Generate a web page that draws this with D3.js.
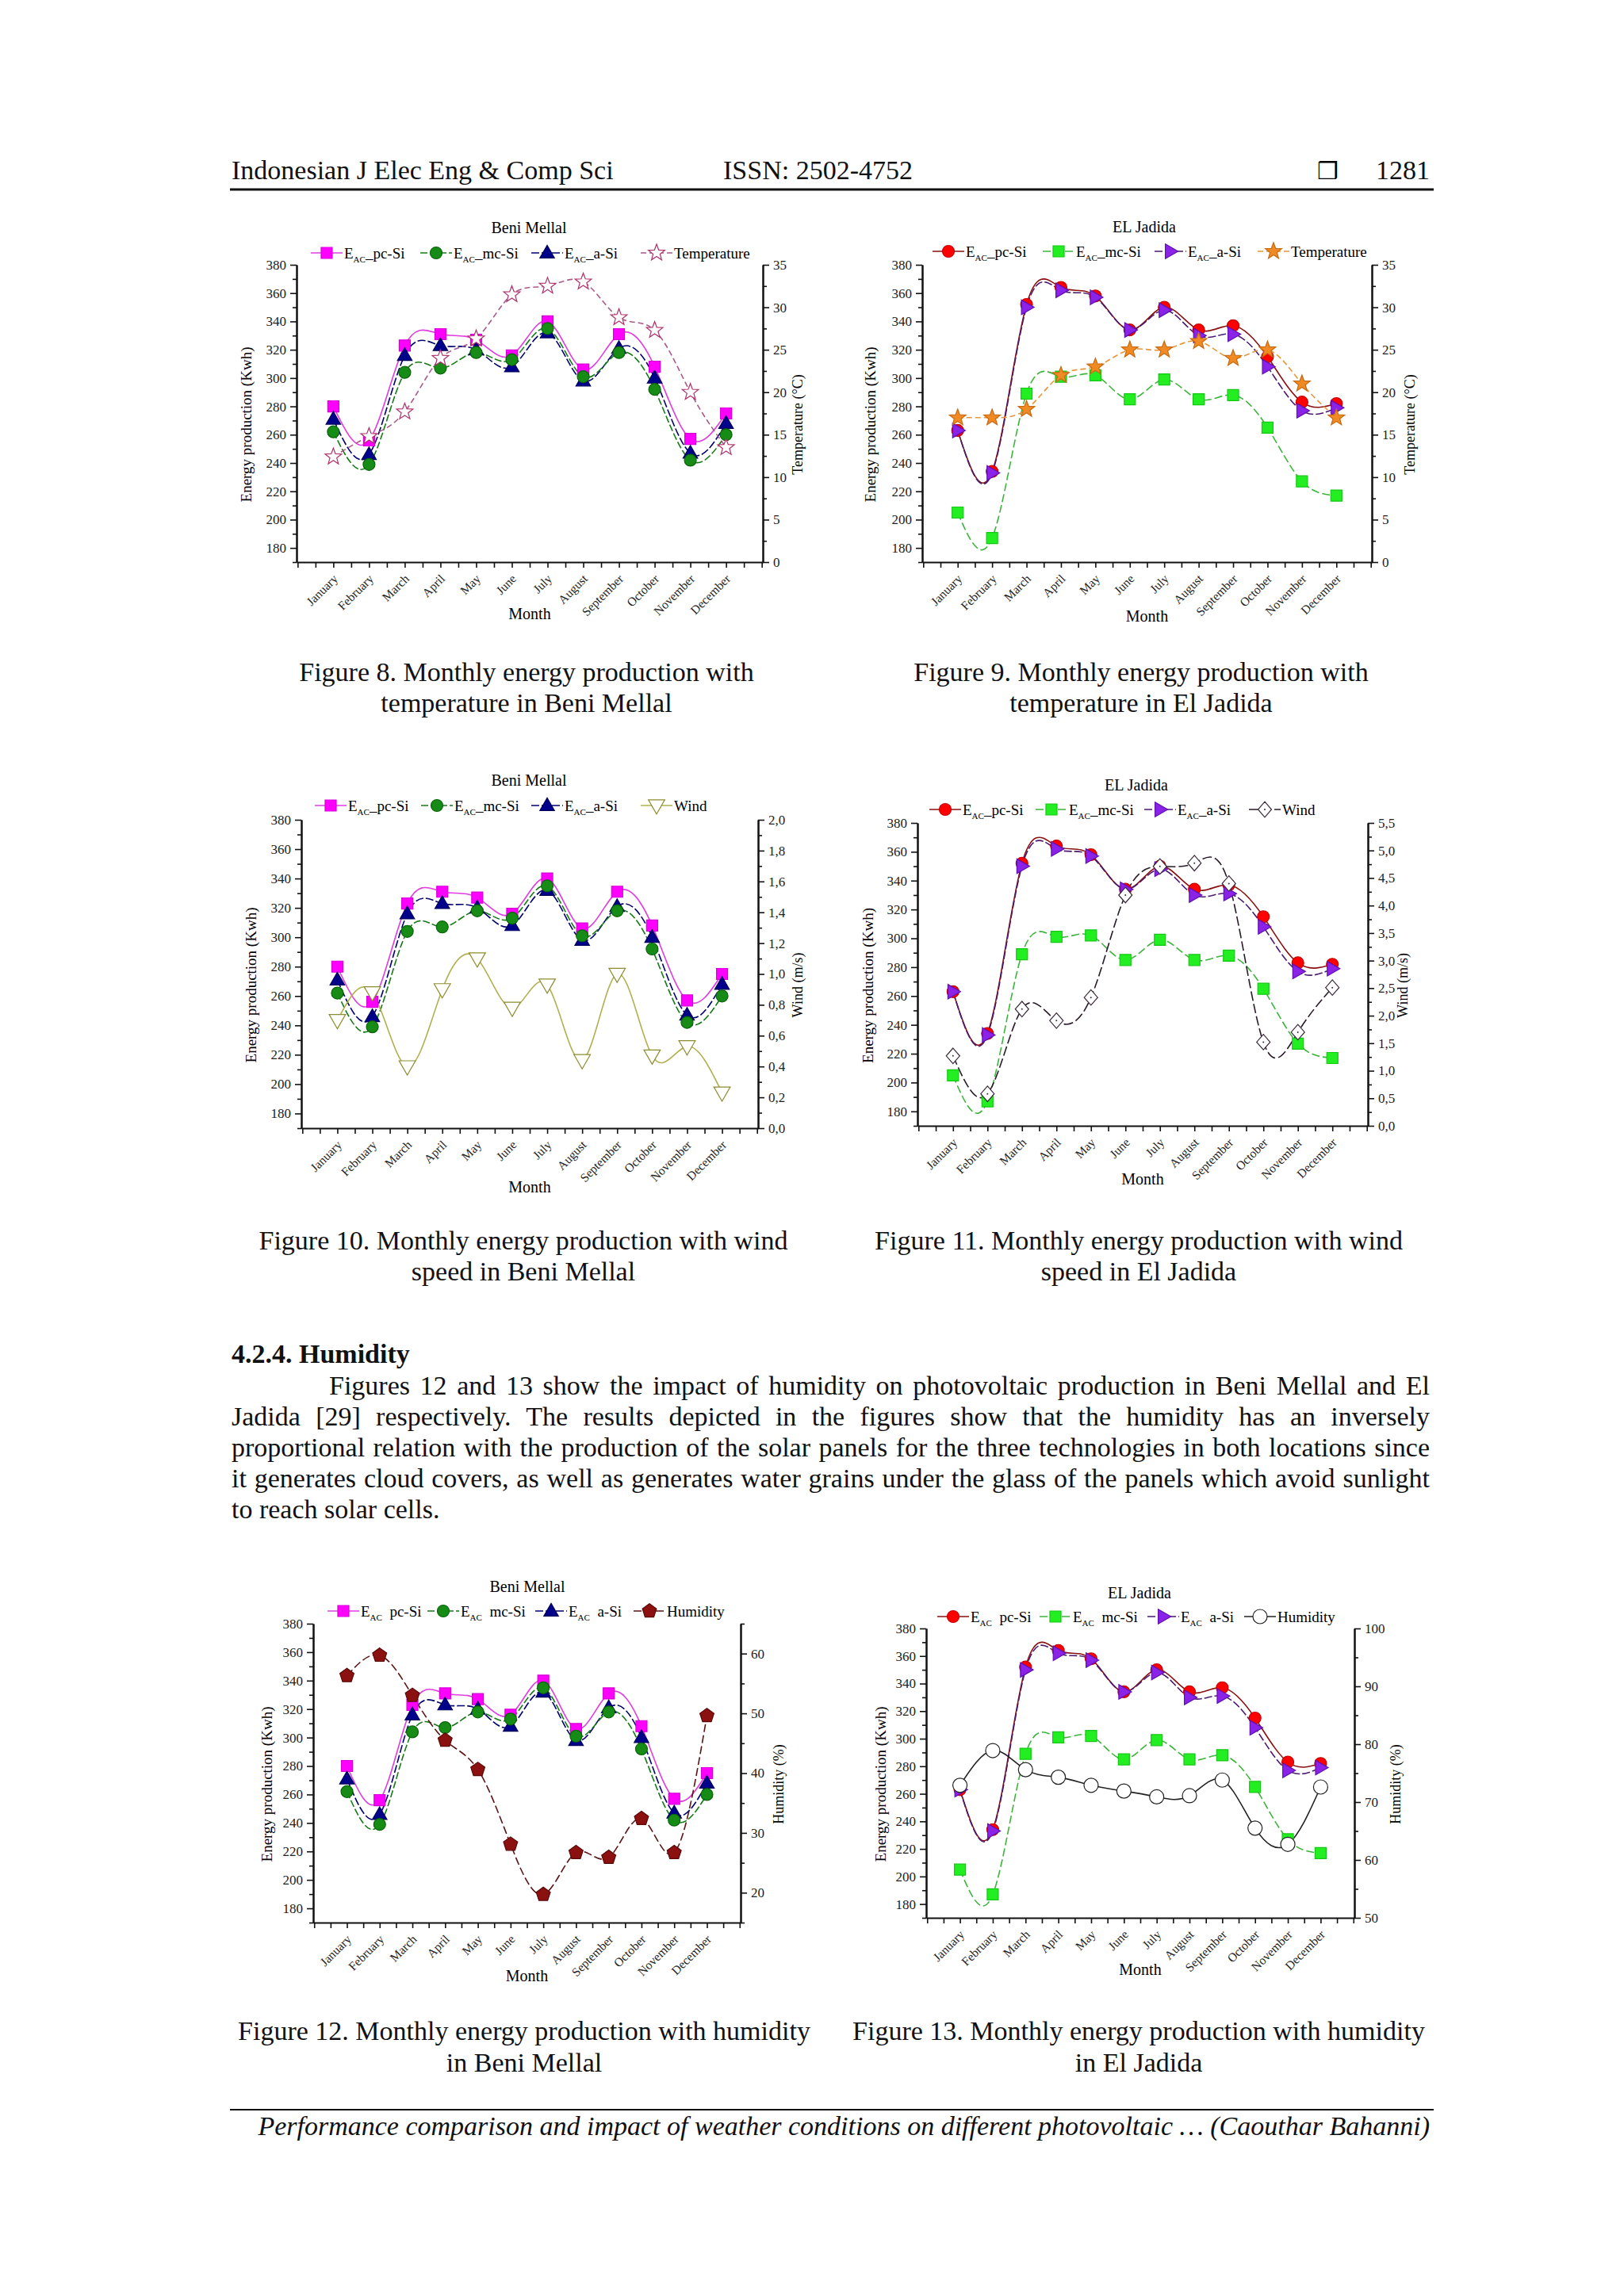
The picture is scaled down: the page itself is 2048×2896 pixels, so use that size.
<!DOCTYPE html>
<html><head><meta charset="utf-8">
<script src="https://cdn.jsdelivr.net/npm/d3@7"></script>
<style>body{margin:0;background:#fff}svg{display:block}</style>
</head><body>
<svg id="page" width="2048" height="2896"></svg>
<script>
// ---------------- DATA ----------------
const months = ["January","February","March","April","May","June","July","August","September","October","November","December"];
// Beni Mellal production (Kwh)
const bmPcSi = [280,256,323,331,327,316,340,306,331,308,257,275];
const bmMcSi = [262,239,304,307,318,313,335,301,318,292,242,260];
const bmASi  = [271,246,316,323,320,308,332,298,321,300,247,268];
// El Jadida production (Kwh)
const ejPcSi = [263,234,352,364,358,334,350,334,337,315,283,282];
const ejMcSi = [205,187,289,301,302,285,299,285,288,265,227,217];
const ejASi  = [263,233,350,362,357,334,348,330,331,308,277,279];
// Weather
const bmTemperature = [12.4,14.8,17.7,24.0,26.3,31.5,32.5,33.0,28.8,27.3,20.0,13.5];
const ejTemperature = [17,17,18,22,23,25,25,26,24,25,21,17];
const bmWind = [0.70,0.88,0.40,0.90,1.10,0.78,0.93,0.44,1.00,0.47,0.53,0.23];
const ejWind = [1.27,0.58,2.12,1.91,2.33,4.19,4.71,4.77,4.40,1.52,1.70,2.51];
const bmHumidity = [56.3,59.7,53.0,45.5,40.6,28.1,19.7,26.7,25.9,32.4,26.7,49.6];
const ejHumidity = [72.9,78.9,75.6,74.3,72.9,71.9,70.9,71.1,73.8,65.5,62.7,72.6];
// Axis ticks
const energyTicks = [180,200,220,240,260,280,300,320,340,360,380];
const energyMinor = [170,190,210,230,250,270,290,310,330,350,370];
const tempTicks = [0,5,10,15,20,25,30,35];
const tempMinor = [2.5,7.5,12.5,17.5,22.5,27.5,32.5];
const bmWindTicks = [0,0.2,0.4,0.6,0.8,1.0,1.2,1.4,1.6,1.8,2.0];
const bmWindMinor = [0.1,0.3,0.5,0.7,0.9,1.1,1.3,1.5,1.7,1.9];
const ejWindTicks = [0,0.5,1.0,1.5,2.0,2.5,3.0,3.5,4.0,4.5,5.0,5.5];
const ejWindMinor = [0.25,0.75,1.25,1.75,2.25,2.75,3.25,3.75,4.25,4.75,5.25];
const bmHumTicks = [20,30,40,50,60];
const bmHumMinor = [15,25,35,45,55,65];
const ejHumTicks = [50,60,70,80,90,100];
const ejHumMinor = [55,65,75,85,95];

// ---------------- HELPERS ----------------
const SERIF = "'Liberation Serif','Times New Roman',serif";
const svg = d3.select('#page');
const commaFmt = d => d3.format('.1f')(d).replace('.', ',');

function markerPath(type, s) {
  const poly = pts => 'M' + pts.map(p => p[0].toFixed(2) + ',' + p[1].toFixed(2)).join('L') + 'Z';
  switch (type) {
    case 'square': return poly([[-s,-s],[s,-s],[s,s],[-s,s]]);
    case 'circle': return `M${s},0A${s},${s} 0 1,1 ${-s},0A${s},${s} 0 1,1 ${s},0Z`;
    case 'triUp': return poly([[0,-s*1.2],[s*1.15,s*0.8],[-s*1.15,s*0.8]]);
    case 'triDown': return poly([[0,s*1.2],[s*1.15,-s*0.8],[-s*1.15,-s*0.8]]);
    case 'triRight': return poly([[s*1.2,0],[-s*0.8,-s*1.15],[-s*0.8,s*1.15]]);
    case 'diamond': return poly([[0,-s*1.15],[s,0],[0,s*1.15],[-s,0]]);
    case 'star': {
      const pts = [];
      for (let k = 0; k < 10; k++) {
        const r = k % 2 === 0 ? s*1.15 : s*0.48;
        const a = -Math.PI/2 + k*Math.PI/5;
        pts.push([r*Math.cos(a), r*Math.sin(a)]);
      }
      return poly(pts);
    }
    case 'pentagon': {
      const pts = [];
      for (let k = 0; k < 5; k++) {
        const a = -Math.PI/2 + k*2*Math.PI/5;
        pts.push([s*1.1*Math.cos(a), s*1.1*Math.sin(a)]);
      }
      return poly(pts);
    }
  }
}

function drawMarker(g, sr, x, y) {
  g.append('path').attr('d', markerPath(sr.marker, sr.s))
    .attr('transform', `translate(${x},${y})`)
    .attr('fill', sr.fill).attr('stroke', sr.stroke).attr('stroke-width', sr.sw || 1.2);
  if (sr.dot) g.append('circle').attr('cx', x).attr('cy', y).attr('r', 1).attr('fill', sr.stroke);
}

function legendText(g, x, y, lab) {
  const t = g.append('text').attr('x', x).attr('y', y).attr('dy', '0.35em')
    .attr('font-family', SERIF).attr('font-size', 19).attr('xml:space', 'preserve');
  if (lab.sub) {
    t.append('tspan').text('E');
    t.append('tspan').attr('font-size', 11).attr('dy', 5).text('AC');
    t.append('tspan').attr('dy', -5).text(lab.rest);
  } else {
    t.text(lab.rest);
  }
}

function drawChart(cfg) {
  const g = svg.append('g');
  const xi = d3.scaleLinear().domain([-1.03, 12.03]).range([cfg.left, cfg.right]);
  const yL = d3.scaleLinear().domain([170, 380]).range([cfg.bottom, cfg.top]);
  const yR = d3.scaleLinear().domain(cfg.rDomain).range([cfg.bottom, cfg.top]);

  // Title
  g.append('text').attr('x', cfg.titleX).attr('y', cfg.titleY).attr('dy', '0.35em')
    .attr('text-anchor', 'middle').attr('font-family', SERIF).attr('font-size', 20).text(cfg.title);

  // Left axis
  g.append('g').attr('transform', `translate(${cfg.left},0)`)
    .call(d3.axisLeft(yL).tickValues(energyTicks).tickSize(8).tickSizeOuter(0).tickPadding(5).tickFormat(d3.format('d')));
  g.append('g').attr('transform', `translate(${cfg.left},0)`)
    .call(d3.axisLeft(yL).tickValues(energyMinor).tickSize(5).tickSizeOuter(0).tickFormat(''));
  // Right axis
  g.append('g').attr('transform', `translate(${cfg.right},0)`)
    .call(d3.axisRight(yR).tickValues(cfg.rTicks).tickSize(8).tickSizeOuter(0).tickPadding(5).tickFormat(cfg.rFormat));
  g.append('g').attr('transform', `translate(${cfg.right},0)`)
    .call(d3.axisRight(yR).tickValues(cfg.rMinor).tickSize(5).tickSizeOuter(0).tickFormat(''));
  // Bottom axis (half-step ticks)
  const xb = g.append('g').attr('transform', `translate(0,${cfg.bottom})`)
    .call(d3.axisBottom(xi).tickValues(d3.range(-1, 12.01, 0.5)).tickSize(7).tickSizeOuter(0)
      .tickFormat(i => (Number.isInteger(i) && i >= 0 && i < 12) ? months[i] : ''));
  xb.selectAll('text').attr('x', 0).attr('y', 0).attr('dy', 0)
    .attr('transform', 'translate(6,22) rotate(-45)').attr('text-anchor', 'end')
    .attr('font-size', 15.5);
  g.selectAll('.domain').attr('stroke-width', 2).attr('stroke', '#111');
  g.selectAll('.tick line').attr('stroke-width', 1.6).attr('stroke', '#111');
  g.selectAll('.tick text').attr('font-family', SERIF).attr('fill', '#222');
  g.selectAll('g.tick text').filter(function(){ return !this.getAttribute('transform'); }).attr('font-size', 17);

  // Axis titles
  g.append('text').attr('x', (cfg.left + cfg.right) / 2).attr('y', cfg.monthY).attr('dy', '0.35em')
    .attr('text-anchor', 'middle').attr('font-family', SERIF).attr('font-size', 20).text('Month');
  const mid = (cfg.top + cfg.bottom) / 2 + 14;
  g.append('text').attr('transform', `translate(${cfg.lTitleX},${mid}) rotate(-90)`).attr('dy', '0.35em')
    .attr('text-anchor', 'middle').attr('font-family', SERIF).attr('font-size', 19).text('Energy production (Kwh)');
  g.append('text').attr('transform', `translate(${cfg.rTitleX},${mid}) rotate(-90)`).attr('dy', '0.35em')
    .attr('text-anchor', 'middle').attr('font-family', SERIF).attr('font-size', 18).text(cfg.rTitle);

  // Lines
  cfg.series.forEach(sr => {
    const ys = sr.axis === 'R' ? yR : yL;
    const line = d3.line().x((d, i) => xi(i)).y(d => ys(d)).curve(d3.curveNatural);
    g.append('path').datum(sr.vals).attr('d', line).attr('fill', 'none')
      .attr('stroke', sr.line).attr('stroke-width', 1.6)
      .attr('stroke-dasharray', sr.dash || null);
  });
  // Markers
  cfg.series.forEach(sr => {
    const ys = sr.axis === 'R' ? yR : yL;
    sr.vals.forEach((v, i) => drawMarker(g, sr, xi(i), ys(v)));
  });

  // Legend
  cfg.legend.forEach(item => {
    const sr = cfg.series.find(s => s.key === item.key);
    g.append('line').attr('x1', item.x - 20).attr('x2', item.x + 20)
      .attr('y1', cfg.legendY).attr('y2', cfg.legendY)
      .attr('stroke', sr.line).attr('stroke-width', 1.6).attr('stroke-dasharray', sr.dash || null);
    drawMarker(g, sr, item.x, cfg.legendY);
    legendText(g, item.x + 22, cfg.legendY, item.label);
  });
}

// Series styles
function bmSeries(weather) {
  return [
    {key:'pc', vals:bmPcSi, axis:'L', line:'#e03ce0', dash:null, marker:'square', fill:'#ff00ff', stroke:'#d800d8', s:7},
    {key:'a', vals:bmASi, axis:'L', line:'#000070', dash:'10,3', marker:'triUp', fill:'#00008b', stroke:'#00005a', s:8},
    {key:'mc', vals:bmMcSi, axis:'L', line:'#167a16', dash:'9,3', marker:'circle', fill:'#168c16', stroke:'#0a640a', s:7.5},
    weather
  ];
}
function ejSeries(weather) {
  return [
    {key:'pc', vals:ejPcSi, axis:'L', line:'#8a1010', dash:null, marker:'circle', fill:'#ff0000', stroke:'#c80000', s:7.5},
    {key:'mc', vals:ejMcSi, axis:'L', line:'#3cb43c', dash:'10,4', marker:'square', fill:'#22ee22', stroke:'#14c814', s:7},
    {key:'a', vals:ejASi, axis:'L', line:'#4a1a70', dash:'10,3', marker:'triRight', fill:'#8a22e8', stroke:'#6010b0', s:8},
    weather
  ];
}
const labBM = [{rest:'_pc-Si', sub:true},{rest:'_mc-Si', sub:true},{rest:'_a-Si', sub:true}];
const labSp = [{rest:'  pc-Si', sub:true},{rest:'  mc-Si', sub:true},{rest:'  a-Si', sub:true}];

// Figure 8
drawChart({
  left:374, right:962, top:334, bottom:709, title:'Beni Mellal', titleX:667, titleY:287, legendY:319,
  monthY:774, lTitleX:310, rTitleX:1006, rTitle:'Temperature (°C)',
  rDomain:[0,35], rTicks:tempTicks, rMinor:tempMinor, rFormat:d3.format('d'),
  series: bmSeries({key:'w', vals:bmTemperature, axis:'R', line:'#a85a8a', dash:'7,4', marker:'star', fill:'#fff', stroke:'#b0306a', s:9.5}),
  legend:[{key:'pc',x:412,label:labBM[0]},{key:'mc',x:550,label:labBM[1]},{key:'a',x:690,label:labBM[2]},{key:'w',x:828,label:{rest:'Temperature'}}]
});
// Figure 9
drawChart({
  left:1163, right:1730, top:334, bottom:709, title:'EL Jadida', titleX:1443, titleY:286, legendY:317,
  monthY:777, lTitleX:1097, rTitleX:1778, rTitle:'Temperature (°C)',
  rDomain:[0,35], rTicks:tempTicks, rMinor:tempMinor, rFormat:d3.format('d'),
  series: ejSeries({key:'w', vals:ejTemperature, axis:'R', line:'#e8963a', dash:'7,4', marker:'star', fill:'#f08a24', stroke:'#c86a10', s:9.5}),
  legend:[{key:'pc',x:1196,label:labBM[0]},{key:'mc',x:1335,label:labBM[1]},{key:'a',x:1476,label:labBM[2]},{key:'w',x:1606,label:{rest:'Temperature'}}]
});
// Figure 10
drawChart({
  left:380, right:956, top:1034, bottom:1423, title:'Beni Mellal', titleX:667, titleY:984, legendY:1016,
  monthY:1497, lTitleX:316, rTitleX:1006, rTitle:'Wind (m/s)',
  rDomain:[0,2], rTicks:bmWindTicks, rMinor:bmWindMinor, rFormat:commaFmt,
  series: bmSeries({key:'w', vals:bmWind, axis:'R', line:'#b0b050', dash:null, marker:'triDown', fill:'#fff', stroke:'#8c8c30', s:9}),
  legend:[{key:'pc',x:417,label:labBM[0]},{key:'mc',x:551,label:labBM[1]},{key:'a',x:690,label:labBM[2]},{key:'w',x:828,label:{rest:'Wind'}}]
});
// Figure 11
drawChart({
  left:1157, right:1725, top:1038, bottom:1420, title:'EL Jadida', titleX:1433, titleY:990, legendY:1021,
  monthY:1487, lTitleX:1094, rTitleX:1769, rTitle:'Wind (m/s)',
  rDomain:[0,5.5], rTicks:ejWindTicks, rMinor:ejWindMinor, rFormat:commaFmt,
  series: ejSeries({key:'w', vals:ejWind, axis:'R', line:'#2a1a2a', dash:'12,4', marker:'diamond', fill:'#fff', stroke:'#3a2a3a', s:8.5, dot:true}),
  legend:[{key:'pc',x:1192,label:labBM[0]},{key:'mc',x:1326,label:labBM[1]},{key:'a',x:1463,label:labBM[2]},{key:'w',x:1595,label:{rest:'Wind'}}]
});
// Figure 12
drawChart({
  left:395, right:934, top:2048, bottom:2425, title:'Beni Mellal', titleX:665, titleY:2001, legendY:2032,
  monthY:2492, lTitleX:336, rTitleX:982, rTitle:'Humidity (%)',
  rDomain:[15,65], rTicks:bmHumTicks, rMinor:bmHumMinor, rFormat:d3.format('d'),
  series: bmSeries({key:'w', vals:bmHumidity, axis:'R', line:'#5a1414', dash:'10,4', marker:'pentagon', fill:'#8b1010', stroke:'#5a0808', s:8.5}),
  legend:[{key:'pc',x:433,label:labSp[0]},{key:'mc',x:559,label:labSp[1]},{key:'a',x:695,label:labSp[2]},{key:'w',x:819,label:{rest:'Humidity'}}]
});
// Figure 13
drawChart({
  left:1168, right:1708, top:2054, bottom:2419, title:'EL Jadida', titleX:1437, titleY:2009, legendY:2039,
  monthY:2484, lTitleX:1110, rTitleX:1760, rTitle:'Humidity (%)',
  rDomain:[50,100], rTicks:ejHumTicks, rMinor:ejHumMinor, rFormat:d3.format('d'),
  series: ejSeries({key:'w', vals:ejHumidity, axis:'R', line:'#222', dash:null, marker:'circle', fill:'#fff', stroke:'#222', s:9}),
  legend:[{key:'pc',x:1202,label:labSp[0]},{key:'mc',x:1331,label:labSp[1]},{key:'a',x:1467,label:labSp[2]},{key:'w',x:1589,label:{rest:'Humidity'}}]
});

// ---------------- PAGE TEXT ----------------
function txt(x, y, s, opts = {}) {
  const t = svg.append('text').attr('x', x).attr('y', y).attr('font-family', SERIF)
    .attr('font-size', opts.size || 34).attr('fill', '#111').text(s);
  if (opts.anchor) t.attr('text-anchor', opts.anchor);
  if (opts.weight) t.attr('font-weight', opts.weight);
  if (opts.style) t.attr('font-style', opts.style);
  if (opts.len) {
    const natural = t.node().getComputedTextLength();
    const spaces = (s.match(/ /g) || []).length;
    if (spaces > 0) t.attr('word-spacing', ((opts.len - natural) / spaces).toFixed(2));
  }
  return t;
}
// header
txt(292, 226, 'Indonesian J Elec Eng & Comp Sci');
txt(912, 226, 'ISSN: 2502-4752');
svg.append('text').attr('x', 1661).attr('y', 226).attr('font-family', "'DejaVu Sans',sans-serif").attr('font-size', 30).text('❒');
txt(1803, 226, '1281', {anchor:'end'});
svg.append('line').attr('x1', 290).attr('x2', 1808).attr('y1', 239).attr('y2', 239).attr('stroke', '#111').attr('stroke-width', 3);

// captions
const caps = [
  [664, 859, 'Figure 8. Monthly energy production with'], [664, 898, 'temperature in Beni Mellal'],
  [1439, 859, 'Figure 9. Monthly energy production with'], [1439, 898, 'temperature in El Jadida'],
  [660, 1576, 'Figure 10. Monthly energy production with wind'], [660, 1615, 'speed in Beni Mellal'],
  [1436, 1576, 'Figure 11. Monthly energy production with wind'], [1436, 1615, 'speed in El Jadida'],
  [661, 2573, 'Figure 12. Monthly energy production with humidity'], [661, 2613, 'in Beni Mellal'],
  [1436, 2573, 'Figure 13. Monthly energy production with humidity'], [1436, 2613, 'in El Jadida']
];
caps.forEach(c => txt(c[0], c[1], c[2], {anchor:'middle'}));

// section
txt(292, 1719, '4.2.4. Humidity', {weight:'bold'});
txt(415, 1759, 'Figures 12 and 13 show the impact of humidity on photovoltaic production in Beni Mellal and El', {len:1388});
txt(292, 1798, 'Jadida [29] respectively. The results depicted in the figures show that the humidity has an inversely', {len:1511});
txt(292, 1837, 'proportional relation with the production of the solar panels for the three technologies in both locations since', {len:1511});
txt(292, 1876, 'it generates cloud covers, as well as generates water grains under the glass of the panels which avoid sunlight', {len:1511});
txt(292, 1915, 'to reach solar cells.');

// footer
svg.append('line').attr('x1', 290).attr('x2', 1808).attr('y1', 2661).attr('y2', 2661).attr('stroke', '#111').attr('stroke-width', 2);
txt(1803, 2693, 'Performance comparison and impact of weather conditions on different photovoltaic … (Caouthar Bahanni)', {anchor:'end', style:'italic'});
</script>
</body></html>
